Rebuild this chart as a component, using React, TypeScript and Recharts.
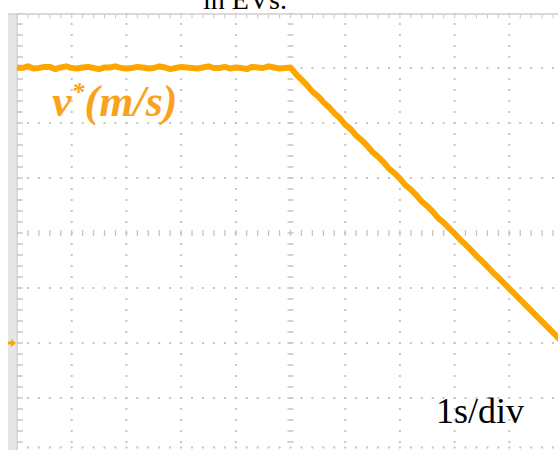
import { LineChart, Line, XAxis, YAxis, ReferenceLine, ReferenceDot } from "recharts";

// time in seconds (1 s/div), speed in divisions above the ground marker
const time = [
  0, 0.1, 0.2, 0.3, 0.4, 0.5, 0.6, 0.7, 0.8, 0.9,
  1.0, 1.1, 1.2, 1.3, 1.4, 1.5, 1.6, 1.7, 1.8, 1.9,
  2.0, 2.1, 2.2, 2.3, 2.4, 2.5, 2.6, 2.7, 2.8, 2.9,
  3.0, 3.1, 3.2, 3.3, 3.4, 3.5, 3.6, 3.7, 3.8, 3.9,
  4.0, 4.1, 4.2, 4.3, 4.4, 4.5, 4.6, 4.7, 4.8, 4.9,
  5.0, 5.1, 5.2, 5.3, 5.4, 5.5, 5.6, 5.7, 5.8, 5.9,
  6.0, 6.1, 6.2, 6.3, 6.4, 6.5, 6.6, 6.7, 6.8, 6.9,
  7.0, 7.1, 7.2, 7.3, 7.4, 7.5, 7.6, 7.7, 7.8, 7.9,
  8.0, 8.1, 8.2, 8.3, 8.4, 8.5, 8.6, 8.7, 8.8, 8.9,
  9.0, 9.1, 9.2, 9.3, 9.4, 9.5, 9.6, 9.7, 9.8, 9.9,
  10.0,
];

const speed = [
  5.01, 5.0, 5.03, 4.99, 5.0, 5.02, 5.02, 4.98, 5.01, 5.03,
  5.0, 4.99, 5.01, 5.02, 5.0, 4.98, 5.01, 5.01, 5.03, 5.0,
  4.99, 5.0, 5.02, 5.01, 4.99, 5.0, 5.03, 5.01, 4.98, 5.0,
  5.02, 5.01, 5.0, 4.99, 5.01, 5.03, 5.0, 5.0, 5.02, 4.99,
  5.01, 5.0, 4.98, 5.02, 5.01, 5.0, 5.03, 5.01, 4.99, 5.0,
  5.01, 4.89, 4.79, 4.69, 4.57, 4.49, 4.38, 4.29, 4.18, 4.09,
  3.97, 3.89, 3.77, 3.69, 3.59, 3.47, 3.39, 3.29, 3.17, 3.09,
  2.99, 2.87, 2.79, 2.69, 2.57, 2.49, 2.39, 2.27, 2.19, 2.09,
  1.99, 1.88, 1.79, 1.69, 1.58, 1.49, 1.39, 1.28, 1.19, 1.09,
  0.99, 0.89, 0.79, 0.69, 0.59, 0.49, 0.39, 0.29, 0.19, 0.09,
  -0.01,
];

const gridX = [1, 2, 3, 4, 6, 7, 8, 9];
const gridY = [-1, 0, 1, 3, 4, 5];

const data = time.map((t, i) => ({ t, v: speed[i] }));

const ORANGE = "#FFA500";
const GRID = "#c4c4c4";

const GroundMarker = (props: any) => {
  const { cx, cy } = props;
  const pts = [
    [cx - 9, cy - 1.5],
    [cx - 6, cy - 1.5],
    [cx - 6, cy - 4],
    [cx - 1, cy],
    [cx - 6, cy + 4],
    [cx - 6, cy + 1.5],
    [cx - 9, cy + 1.5],
  ]
    .map((p) => p.join(","))
    .join(" ");
  return <polygon points={pts} fill={ORANGE} />;
};

export default function App() {
  return (
    <div
      style={{
        position: "absolute",
        left: 0,
        top: 0,
        width: 558,
        height: 450,
        overflow: "hidden",
        background: "#fff",
      }}
    >
      {/* scope frame behind the plot */}
      <div style={{ position: "absolute", left: 8, top: 13, width: 8, height: 437, background: "#e6e6e6" }} />
      <div style={{ position: "absolute", left: 8, top: 12.5, width: 550, height: 2.5, background: "#dadada" }} />

      <div style={{ position: "absolute", left: 0, top: 0 }}>
        <LineChart width={580} height={460} data={data} margin={{ top: 13, right: 16, bottom: 7, left: 17 }}>
          <XAxis dataKey="t" type="number" domain={[0, 10]} hide />
          <YAxis type="number" domain={[-2, 6]} hide />

          {gridX.map((x) => (
            <ReferenceLine key={"gx" + x} x={x} stroke={GRID} strokeWidth={2} strokeDasharray="2 9" strokeDashoffset={1} />
          ))}
          {gridY.map((y) => (
            <ReferenceLine key={"gy" + y} y={y} stroke={GRID} strokeWidth={2} strokeDasharray="2 8.94" strokeDashoffset={1} />
          ))}
          <ReferenceLine y={-1.9} stroke={GRID} strokeWidth={2} strokeDasharray="2 8.94" strokeDashoffset={1} />

          {/* centre axes with minor ticks */}
          <ReferenceLine y={2} stroke={GRID} strokeWidth={6} strokeDasharray="1.3 9.64" strokeDashoffset={0.65} />
          <ReferenceLine x={5} stroke={GRID} strokeWidth={6} strokeDasharray="1.5 9.5" strokeDashoffset={0.75} />

          {/* frame edges with minor ticks */}
          <ReferenceLine x={0} stroke="#cccccc" strokeWidth={1.5} />
          <ReferenceLine x={0.055} stroke={GRID} strokeWidth={5.5} strokeDasharray="1.5 9.5" strokeDashoffset={0.75} />
          <ReferenceLine y={5.936} stroke={GRID} strokeWidth={3.5} strokeDasharray="1 9.94" strokeDashoffset={0.5} />

          <ReferenceDot x={0} y={0} r={4} ifOverflow="visible" shape={GroundMarker} />

          <Line
            dataKey="v"
            stroke={ORANGE}
            strokeWidth={6}
            dot={false}
            type="linear"
            strokeLinejoin="round"
            isAnimationActive={false}
          />
        </LineChart>
      </div>

      <svg width={558} height={450} style={{ position: "absolute", left: 0, top: 0, pointerEvents: "none" }}>
        <text x={203} y={9} fontFamily="Liberation Serif" fontSize={28} fill="#000">
          in EVs.
        </text>
        <text
          x={52}
          y={116}
          fontFamily="Liberation Serif"
          fontSize={44}
          fontStyle="italic"
          fontWeight="bold"
          fill="#FBA21C"
        >
          v
          <tspan fontSize={26} dy={-16}>
            *
          </tspan>
          <tspan dy={16}>(m/s)</tspan>
        </text>
        <text x={436} y={423} fontFamily="Liberation Serif" fontSize={36} fill="#000">
          1s/div
        </text>
      </svg>
    </div>
  );
}
